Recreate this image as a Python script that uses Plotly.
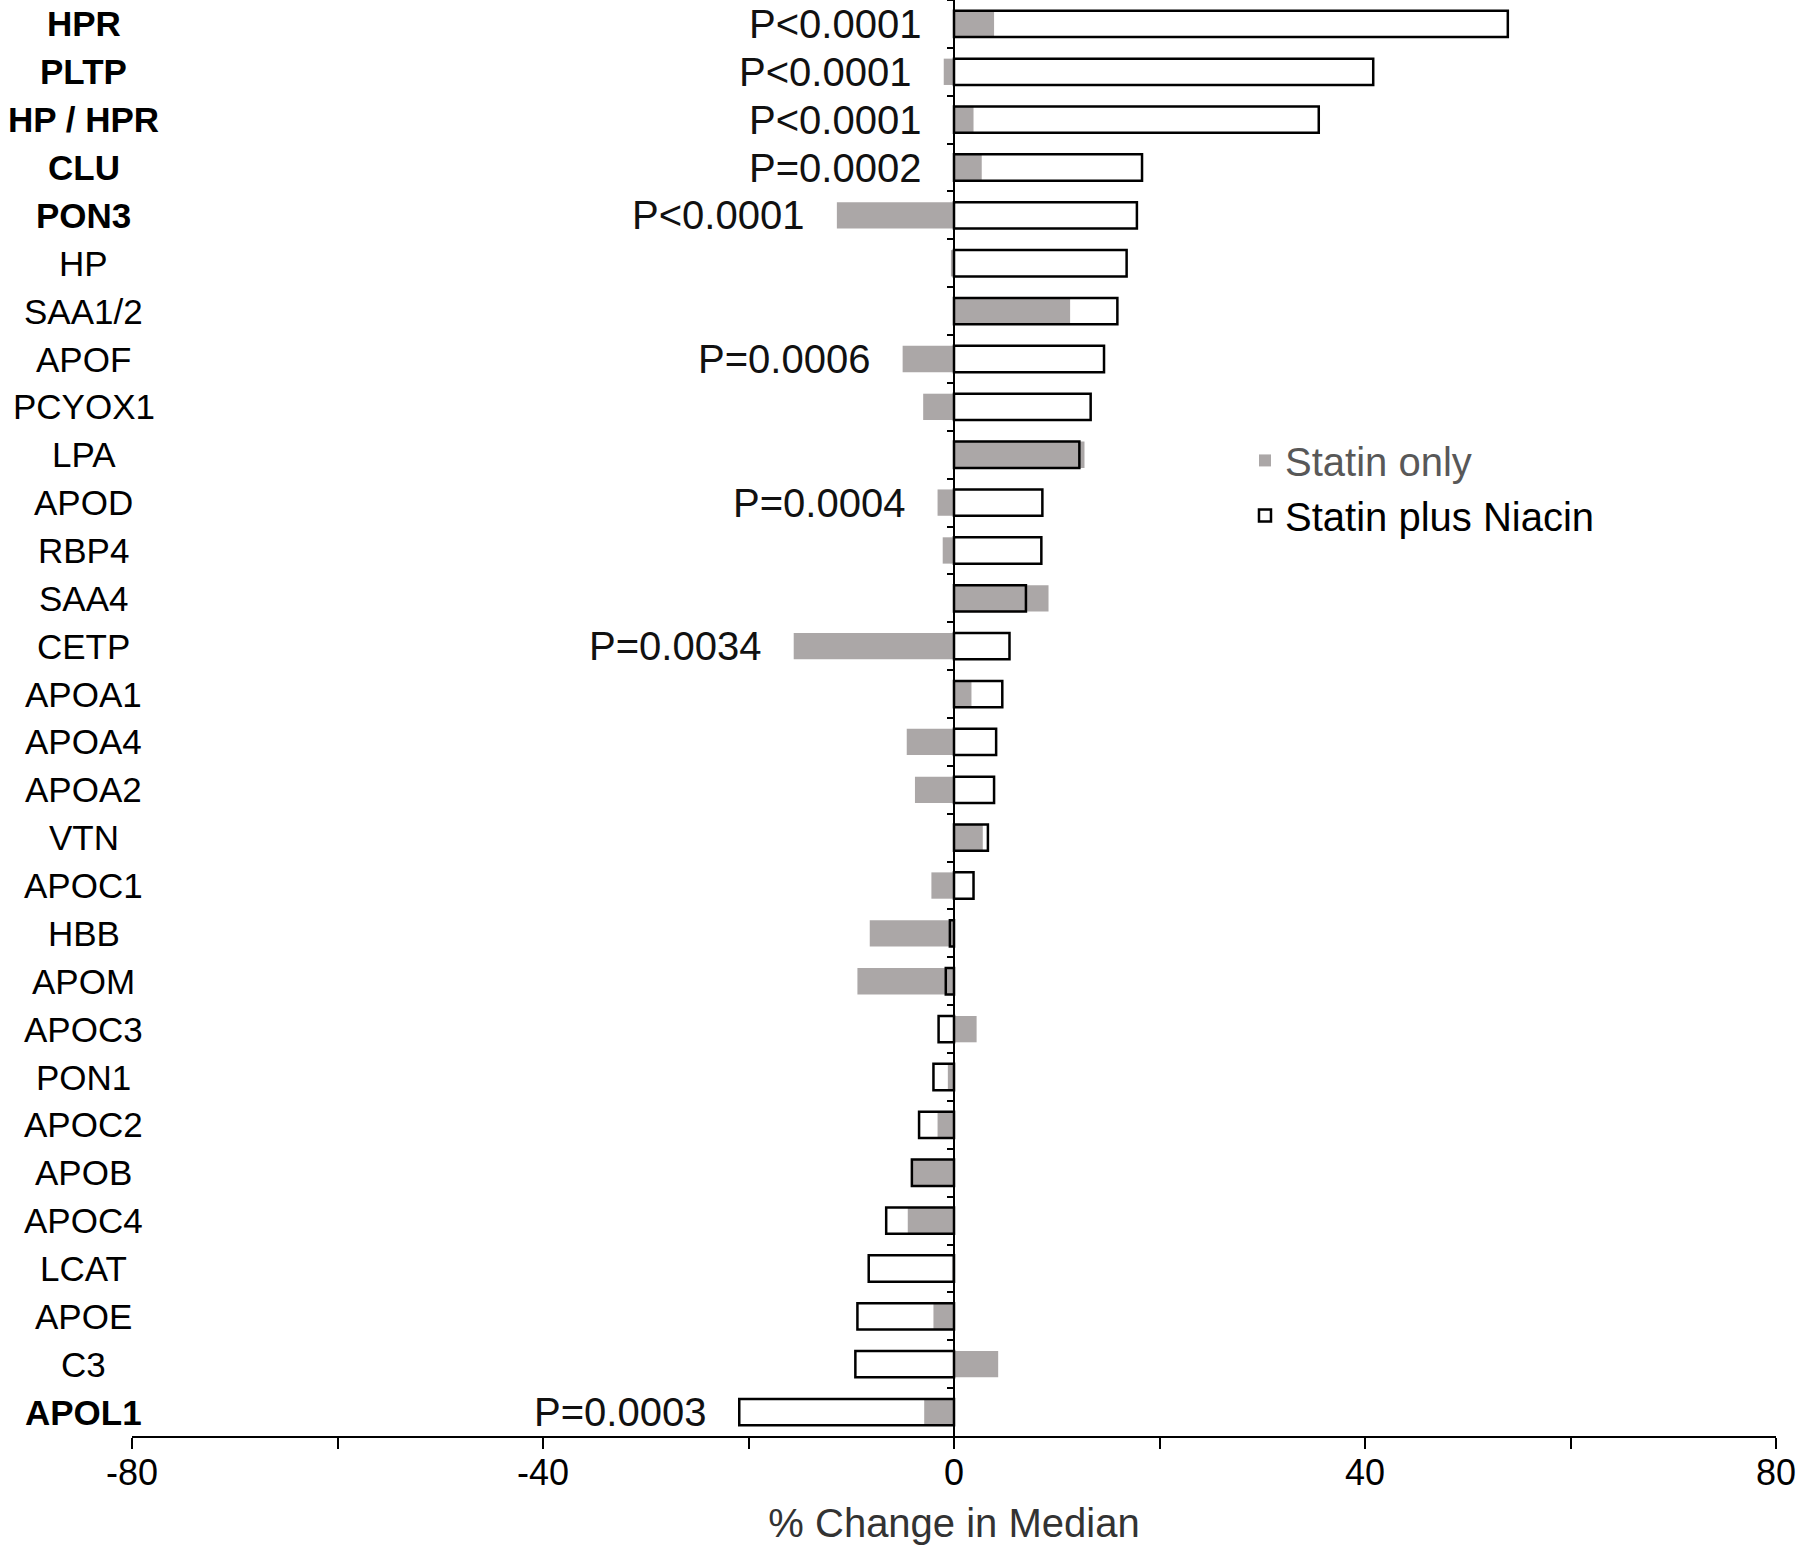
import plotly.graph_objects as go

# ---- data ----
proteins = ["HPR", "PLTP", "HP / HPR", "CLU", "PON3", "HP", "SAA1/2", "APOF", "PCYOX1", "LPA",
            "APOD", "RBP4", "SAA4", "CETP", "APOA1", "APOA4", "APOA2", "VTN", "APOC1", "HBB",
            "APOM", "APOC3", "PON1", "APOC2", "APOB", "APOC4", "LCAT", "APOE", "C3", "APOL1"]

statin_only = [3.9, -1.0, 1.9, 2.7, -11.4, -0.3, 11.3, -5.0, -3.0, 12.7,
               -1.6, -1.1, 9.2, -15.6, 1.7, -4.6, -3.8, 2.8, -2.2, -8.2,
               -9.4, 2.2, -0.6, -1.6, -4.0, -4.5, -0.2, -2.0, 4.3, -2.9]

statin_niacin = [53.9, 40.8, 35.5, 18.3, 17.8, 16.8, 15.9, 14.6, 13.3, 12.2,
                 8.6, 8.5, 7.0, 5.4, 4.7, 4.1, 3.9, 3.3, 1.9, -0.4,
                 -0.8, -1.5, -2.0, -3.4, -4.1, -6.6, -8.3, -9.4, -9.6, -20.9]

p_values = ["P<0.0001", "P<0.0001", "P<0.0001", "P=0.0002", "P<0.0001", "", "", "P=0.0006", "", "",
            "P=0.0004", "", "", "P=0.0034", "", "", "", "", "", "",
            "", "", "", "", "", "", "", "", "", "P=0.0003"]

niacin_significant = ["HPR", "PLTP", "HP / HPR", "CLU", "PON3", "APOL1"]

x_tick_values = [-80, -60, -40, -20, 0, 20, 40, 60, 80]
x_tick_labels = ["-80", "", "-40", "", "0", "", "40", "", "80"]

# ---- styling ----
FONT = "Liberation Sans, Arial, sans-serif"
GRAY = "#aba7a7"

fig = go.Figure()
fig.add_trace(go.Bar(
    y=proteins, x=statin_only, orientation="h",
    name='<span style="color:#585858">Statin only</span>',
    marker=dict(color=GRAY, line=dict(width=0)),
    width=0.55, hoverinfo="skip",
))
fig.add_trace(go.Bar(
    y=proteins, x=statin_niacin, orientation="h",
    name="Statin plus Niacin",
    marker=dict(color="rgba(255,255,255,0)", line=dict(color="black", width=2.5)),
    width=0.55, hoverinfo="skip",
))

annotations = []
for p, s, n, pv in zip(proteins, statin_only, statin_niacin, p_values):
    txt = f"<b>{p}</b>" if p in niacin_significant else p
    annotations.append(dict(
        x=-0.0295, xref="paper", y=p, yref="y", text=txt, showarrow=False,
        xanchor="center", yanchor="middle", font=dict(family=FONT, size=35, color="black"),
    ))
    if pv:
        annotations.append(dict(
            x=min(0, s, n), xref="x", y=p, yref="y", text=pv, showarrow=False,
            xanchor="right", yanchor="middle", xshift=-31,
            font=dict(family=FONT, size=40, color="#111111"),
        ))

n_rows = len(proteins)
fig.update_layout(
    width=1800, height=1545,
    barmode="overlay",
    plot_bgcolor="white", paper_bgcolor="white",
    margin=dict(l=132, r=24, t=0, b=109),
    font=dict(family=FONT, size=36, color="black"),
    showlegend=True,
    legend=dict(x=0.677, y=0.702, xanchor="left", yanchor="top",
                font=dict(family=FONT, size=40, color="black"),
                bgcolor="rgba(0,0,0,0)", traceorder="normal", tracegroupgap=0,
                itemwidth=30),
    xaxis=dict(
        range=[-80, 80], tickmode="array", tickvals=x_tick_values, ticktext=x_tick_labels,
        ticks="outside", ticklen=11, tickwidth=2, tickcolor="black",
        showline=True, linecolor="black", linewidth=2, showgrid=False, zeroline=False,
        tickfont=dict(family=FONT, size=36, color="black"),
        ticklabelstandoff=-7,
        title=dict(text="% Change in Median", font=dict(family=FONT, size=40, color="#333333"),
                   standoff=17),
    ),
    yaxis=dict(
        categoryorder="array", categoryarray=proteins,
        range=[n_rows - 0.5, -0.5],
        anchor="free", position=0.5, side="left",
        showline=True, linecolor="black", linewidth=2,
        ticks="outside", tickson="boundaries", ticklen=6, tickwidth=2, tickcolor="black",
        showticklabels=False, showgrid=False, zeroline=False,
    ),
    annotations=annotations,
)

fig.write_html("out.html", config={"displayModeBar": False},
               post_script="document.body.style.margin='0';document.body.style.overflow='hidden';")
